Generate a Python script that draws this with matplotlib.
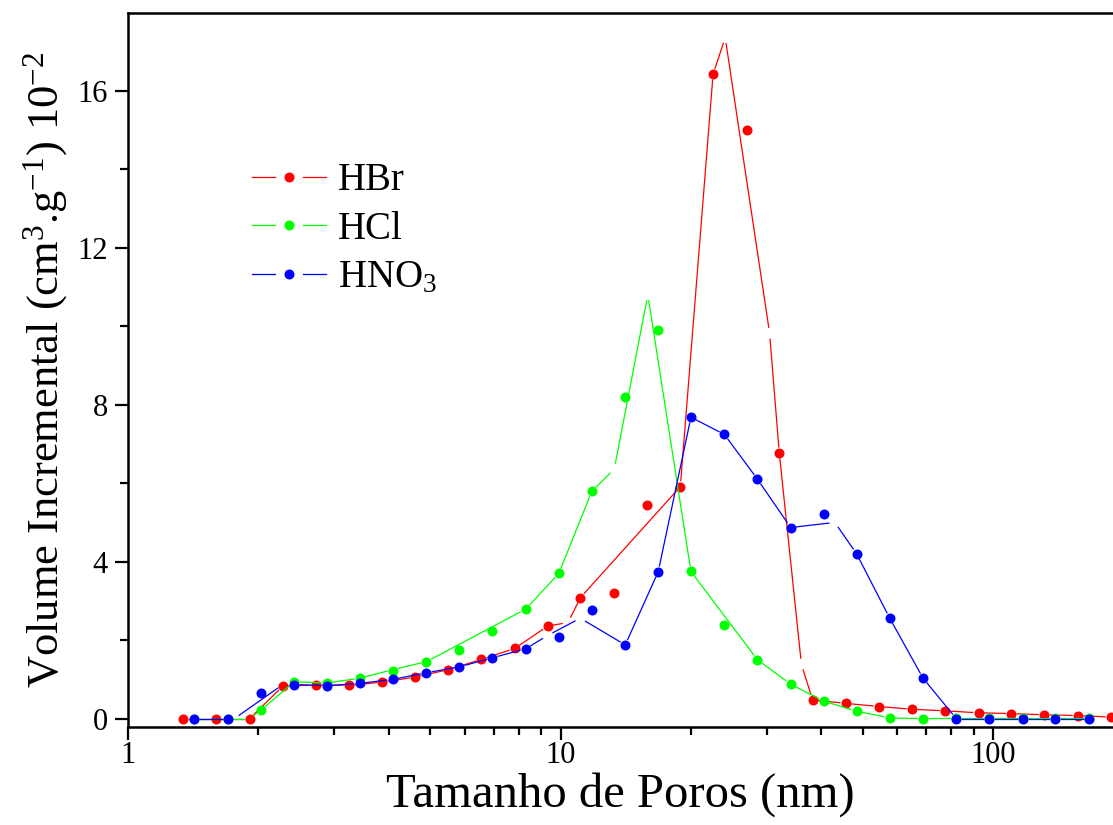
import numpy as np
import matplotlib
matplotlib.use('Agg')
import matplotlib.pyplot as plt
from matplotlib.lines import Line2D
from matplotlib.legend_handler import HandlerBase
from matplotlib.ticker import MultipleLocator, LogLocator, FuncFormatter, NullFormatter

plt.rcParams['font.family'] = ['Liberation Serif', 'DejaVu Serif']
plt.rcParams['mathtext.fontset'] = 'custom'
plt.rcParams['mathtext.rm'] = 'Liberation Serif'
plt.rcParams['mathtext.it'] = 'Liberation Serif:italic'
plt.rcParams['mathtext.bf'] = 'Liberation Serif:bold'

# pontos (simbolos)
hbr_x = [1.34, 1.60, 1.91, 2.28, 2.72, 3.24, 3.87, 4.61, 5.50, 6.56, 7.83, 9.33, 11.1, 13.3, 15.8,
         18.9, 22.5, 26.9, 32.0, 38.2, 45.6, 54.4, 64.9, 77.4, 92.4, 110, 131, 157, 187]
hbr_y = [0, 0, 0, 0.83, 0.86, 0.85, 0.93, 1.06, 1.25, 1.51, 1.79, 2.36, 3.08, 3.19, 5.44,
         5.91, 16.42, 14.99, 6.77, 0.48, 0.39, 0.31, 0.24, 0.20, 0.15, 0.13, 0.10, 0.08, 0.04]

grid_x = [1.42, 1.70, 2.03, 2.42, 2.88, 3.43, 4.09, 4.89, 5.83, 6.95, 8.30, 9.90, 11.8, 14.1,
          16.8, 20.0, 23.9, 28.5, 34.0, 40.5, 48.3, 57.6, 68.8, 82.1, 97.9, 117, 139, 166]
hcl_y = [0, 0, 0.22, 0.94, 0.91, 1.03, 1.21, 1.45, 1.75, 2.24, 2.79, 3.70, 5.79, 8.20,
         9.89, 3.75, 2.39, 1.50, 0.88, 0.45, 0.19, 0.02, 0.0, 0.02, 0.02, 0.02, 0.02, 0.02]
hno3_y = [0, 0, 0.65, 0.87, 0.84, 0.90, 1.00, 1.17, 1.32, 1.55, 1.78, 2.08, 2.78, 1.88,
          3.74, 7.68, 7.24, 6.10, 4.87, 5.21, 4.20, 2.56, 1.03, 0, 0, 0, 0, 0]

# linhas
hbr_lx = [1.34, 1.60, 1.91, 2.28, 2.72, 3.24, 3.87, 4.61, 5.50, 6.56, 7.83, 9.33, 10.4, 11.1,
          18.9, 22.5, 24.0, 30.4, 32.0, 36.0, 38.2, 45.6, 54.4, 64.9, 77.4, 92.4, 110, 131, 157, 187]
hbr_ly = [0, 0, 0, 0.83, 0.86, 0.85, 0.93, 1.06, 1.25, 1.51, 1.79, 2.36, 2.45, 3.08,
          5.91, 16.42, 17.35, 9.82, 6.77, 1.39, 0.48, 0.39, 0.31, 0.24, 0.20, 0.15, 0.13, 0.10, 0.08, 0.04]

hcl_lx = [1.42, 1.70, 1.91, 2.03, 2.42, 2.88, 3.43, 4.09, 4.89, 8.30, 9.90, 11.8, 13.3, 15.9,
          20.0, 28.5, 34.0, 40.5, 48.3, 57.6, 68.8, 82.1, 97.9, 117, 139, 166]
hcl_ly = [0, 0, 0, 0.22, 0.94, 0.91, 1.03, 1.25, 1.45, 2.79, 3.70, 5.79, 6.36, 10.8,
          3.75, 1.50, 0.88, 0.45, 0.19, 0.02, 0.0, 0.01, 0.01, 0.01, 0.01, 0.01]

hno3_lx = [1.42, 1.70, 1.76, 2.28, 2.42, 2.88, 3.43, 4.09, 4.89, 5.83, 6.95, 8.30, 9.33, 11.1,
           14.1, 16.8, 20.0, 23.9, 28.5, 34.0, 43.0, 48.3, 57.6, 68.8, 82.1, 97.9, 117, 139, 166]
hno3_ly = [0, 0, 0, 0.87, 0.87, 0.84, 0.90, 1.00, 1.17, 1.32, 1.55, 1.78, 2.12, 2.56,
           1.88, 3.74, 7.68, 7.24, 6.10, 4.87, 5.00, 4.20, 2.56, 1.03, 0, 0, 0, 0, 0]

labels = ['HBr', 'HCl', r'HNO$_3$']
cores = ['#ff0000', '#00ff00', '#0000ff']

fig = plt.figure(figsize=(11.13, 8.25), dpi=100)
ax = fig.add_axes([128 / 1113, 1 - 726.7 / 825, (1113 - 128) / 1113, (726.7 - 13.3) / 825])
ax.set_xscale('log')
ax.set_xlim(1, 189)
ax.set_ylim(-0.204, 17.97)


def linha_com_gap(x, y, cor, z, r=6.0):
    # estilo Origin: linha interrompida perto de cada vertice
    pts = ax.transData.transform(np.column_stack([x, y]))
    inv = ax.transData.inverted()
    for p0, p1 in zip(pts[:-1], pts[1:]):
        d = p1 - p0
        L = np.hypot(d[0], d[1])
        if L <= 2 * r:
            continue
        u = d / L
        a = inv.transform(p0 + u * r)
        b = inv.transform(p1 - u * r)
        ax.plot([a[0], b[0]], [a[1], b[1]], color=cor, lw=0.9, zorder=z)


series = [(hbr_lx, hbr_ly, hbr_x, hbr_y),
          (hcl_lx, hcl_ly, grid_x, hcl_y),
          (hno3_lx, hno3_ly, grid_x, hno3_y)]
for i, (lx, ly, px, py) in enumerate(series):
    linha_com_gap(lx, ly, cores[i], 2 + 2 * i)
    ax.plot(px, py, 'o', color=cores[i], ms=7.2, mec='none', zorder=3 + 2 * i)


class GapHandler(HandlerBase):
    def create_artists(self, legend, orig_handle, xdescent, ydescent, width, height, fontsize, trans):
        c = orig_handle.get_color()
        y = height / 2 - ydescent
        x0 = -xdescent
        l1 = Line2D([x0, x0 + width * 0.31], [y, y], color=c, lw=0.9)
        l2 = Line2D([x0 + width * 0.69, x0 + width], [y, y], color=c, lw=0.9)
        m = Line2D([x0 + width * 0.5], [y], marker='o', ls='none', color=c, ms=7.2, mec='none')
        for a in (l1, l2, m):
            a.set_transform(trans)
        return [l1, l2, m]


proxies = [Line2D([], [], color=c) for c in cores]
ax.legend(proxies, labels, handler_map={Line2D: GapHandler()}, loc='upper left',
          bbox_to_anchor=(0.126, 0.791), frameon=False, fontsize=28, borderpad=0,
          borderaxespad=0, handlelength=1.9, handletextpad=0.3, labelspacing=0.30)

ax.xaxis.set_major_locator(LogLocator(base=10))
ax.xaxis.set_minor_locator(LogLocator(base=10, subs=np.arange(2, 10)))
ax.xaxis.set_major_formatter(FuncFormatter(lambda v, p: f'{v:g}'))
ax.xaxis.set_minor_formatter(NullFormatter())
ax.yaxis.set_major_locator(MultipleLocator(4))
ax.yaxis.set_minor_locator(MultipleLocator(2))

for s in ['left', 'bottom', 'top']:
    ax.spines[s].set_linewidth(1.8)
ax.spines['right'].set_visible(False)
ax.tick_params(which='major', direction='out', length=9.5, width=1.6, labelsize=22)
ax.tick_params(which='minor', direction='out', length=5.5, width=1.6)
ax.tick_params(axis='x', which='major', pad=1)
ax.tick_params(axis='y', which='major', pad=5)

ax.set_xlabel('Tamanho de Poros (nm)', fontsize=35, labelpad=1)
ax.set_ylabel(r'Volume Incremental (cm$^{3}$.g$^{-1}$) 10$^{-2}$', fontsize=32, labelpad=5)

fig.savefig('out.png', dpi=100)
